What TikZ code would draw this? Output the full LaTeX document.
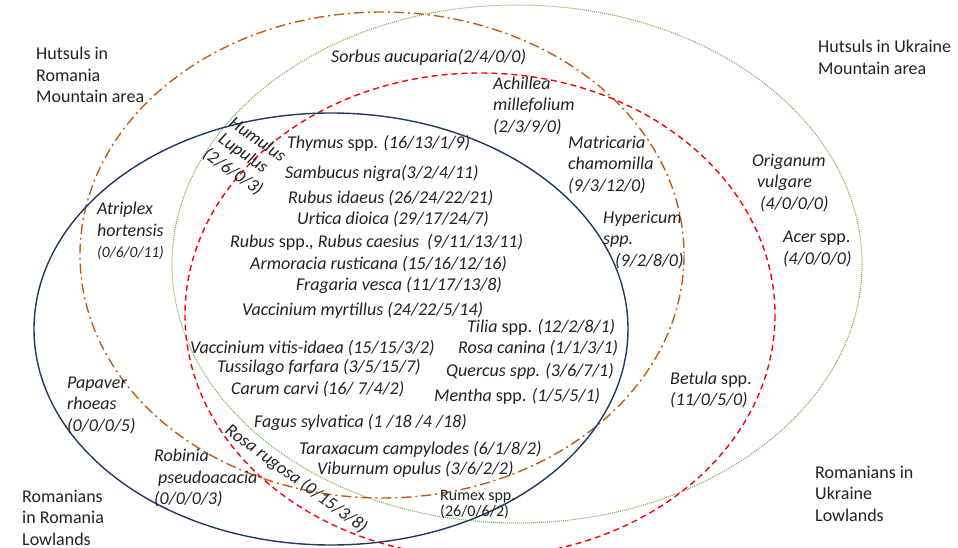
\documentclass[tikz,border=0pt]{standalone}
\usepackage{fontspec}
\setmainfont{Carlito}
\usepackage{tikz}
\usepackage{xcolor}
\definecolor{setnavy}{HTML}{203864}
\definecolor{setorange}{HTML}{C55A11}
\definecolor{setgreen}{HTML}{70AD47}
\definecolor{setred}{HTML}{FF0000}
\definecolor{txt}{HTML}{222222}
\newcommand{\spp}{{\upshape spp.}}

\begin{document}
\begin{tikzpicture}[x=1pt,y=-1pt,
        rrset/.style={setnavy, line width=1.4pt},
        hrset/.style={setorange, line width=1.4pt, dash pattern=on 10pt off 4pt on 2pt off 4pt},
        huset/.style={setgreen, line width=1pt, dash pattern=on 1pt off 1pt},
        ruset/.style={setred, line width=1.4pt, dash pattern=on 6pt off 4pt},
        group/.style={txt, anchor=west, align=left, inner sep=0pt, font=\fontsize{18}{21.5}\selectfont},
        plant/.style={txt, anchor=west, align=left, inner sep=0pt, font=\fontsize{18}{21.5}\selectfont\itshape},
        tilted/.style={plant, anchor=center, rotate=-35},
        small/.style={font=\fontsize{16}{16}\selectfont}]
    \useasboundingbox (0,0) rectangle (958,548);
    \begin{scope}
        \clip (0,0) rectangle (958,548);
        \draw[huset] (517,264) ellipse [x radius=345, y radius=259];
        \draw[hrset] (382,255) ellipse [x radius=302, y radius=243];
        \draw[ruset] (480,315) ellipse [x radius=295, y radius=242];
        \draw[rrset] (331,329) ellipse [x radius=297, y radius=216];
    \end{scope}

    \node[group] (hrm) at (36,75) {Hutsuls in\\Romania\\Mountain area};
    \node[group] (hum) at (818,57.5) {Hutsuls in Ukraine\\Mountain area};
    \node[group] (rul) at (815,493.5) {Romanians in\\Ukraine\\Lowlands};
    \node[group] (rrl) at (22,517.5) {Romanians\\in Romania\\Lowlands};

    \node[plant] (sorbus) at (331,57) {Sorbus aucuparia(2/4/0/0)};
    \node[plant] (achillea) at (493,105.5) {Achillea\\millefolium\\(2/3/9/0)};
    \node[plant] (matricaria) at (568,165) {Matricaria\\chamomilla\\(9/3/12/0)};
    \node[plant] (origanum) at (752,183) {Origanum\\\hspace*{5pt}vulgare\\\hspace*{8pt}(4/0/0/0)};
    \node[plant] (acer) at (783,249) {Acer \spp\\(4/0/0/0)};
    \node[plant] (hypericum) at (603,240) {Hypericum\\spp.\\\hspace*{12pt}(9/2/8/0)};
    \node[tilted] (humulus) at (258,139) {Humulus};
    \node[tilted] (lupulus) at (243,154) {Lupulus};
    \node[tilted] (humulusn) at (233,172) {(2/6/0/3)};
    \node[plant] (thymus) at (287,143) {Thymus \spp{} (16/13/1/9)};
    \node[plant] (sambucus) at (285,173) {Sambucus nigra(3/2/4/11)};
    \node[plant] (idaeus) at (288,198) {Rubus idaeus (26/24/22/21)};
    \node[plant] (urtica) at (297,219) {Urtica dioica (29/17/24/7)};
    \node[plant] (rubus) at (230,242) {Rubus \spp, Rubus caesius\ \ (9/11/13/11)};
    \node[plant] (armoracia) at (250,264) {Armoracia rusticana (15/16/12/16)};
    \node[plant] (fragaria) at (296,285) {Fragaria vesca (11/17/13/8)};
    \node[plant] (myrtillus) at (242,310) {Vaccinium myrtillus (24/22/5/14)};
    \node[plant] (tilia) at (467,327) {Tilia \spp{} (12/2/8/1)};
    \node[plant] (vitis) at (190,348) {Vaccinium vitis-idaea (15/15/3/2)};
    \node[plant] (canina) at (458,348) {Rosa canina (1/1/3/1)};
    \node[plant] (tussilago) at (217,367) {Tussilago farfara (3/5/15/7)};
    \node[plant] (quercus) at (446,371) {Quercus spp. (3/6/7/1)};
    \node[plant] (carum) at (231,389) {Carum carvi (16/ 7/4/2)};
    \node[plant] (mentha) at (434,396) {Mentha \spp{} (1/5/5/1)};
    \node[plant] (fagus) at (254,422) {Fagus sylvatica (1 /18 /4 /18)};
    \node[plant] (taraxacum) at (299,449) {Taraxacum campylodes (6/1/8/2)};
    \node[plant] (viburnum) at (317,469) {Viburnum opulus (3/6/2/2)};
    \node[group, small] (rumex) at (440,504.5) {Rumex spp.\\(26/0/6/2)};
    \node[tilted, rotate=-1] (rugosa) at (296,479) {Rosa rugosa (0/15/3/8)};
    \node[plant] (robinia) at (154,478) {Robinia\\\hspace*{4pt}pseudoacacia\\(0/0/0/3)};
    \node[plant] (papaver) at (67,405) {Papaver\\rhoeas\\(0/0/0/5)};
    \node[plant] (atriplex) at (97,231) {Atriplex\\hortensis\\{\fontsize{15.5}{16}\selectfont(0/6/0/11)}};
    \node[plant] (betula) at (670,390) {Betula \spp\\(11/0/5/0)};
\end{tikzpicture}
\end{document}
